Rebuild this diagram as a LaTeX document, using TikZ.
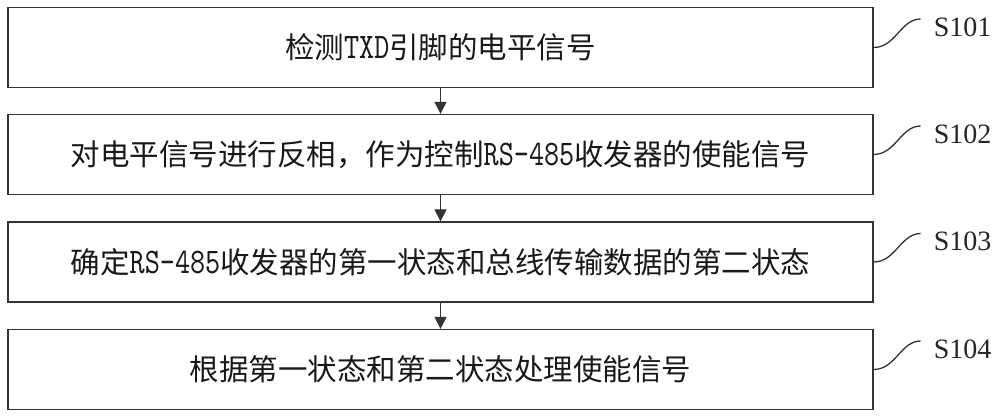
\documentclass[tikz,border=0pt]{standalone}
\usepackage{fontspec}
\setmainfont{Noto Sans CJK SC}
\newfontfamily\cjkfont{Noto Sans CJK SC}
\newfontfamily\labfont{Liberation Serif}
\newfontfamily\latmono{lmmono10-regular}[Extension=.otf, Scale=1.22, FakeStretch=0.8]
\usetikzlibrary{arrows.meta,calc}
\newcommand{\latm}[1]{{\latmono #1}}
\tikzset{
  stepbox/.style={draw=black!80, line width=1.3pt, minimum width=865pt, minimum height=80pt, inner sep=0pt,
    font=\fontsize{29.5pt}{32pt}\selectfont\cjkfont, text=black!90},
  flowarrow/.style={draw=black!80, line width=1.3pt, -{Triangle[length=12pt,width=12pt]}},
  leader/.style={draw=black!80, line width=1.3pt},
  steplabel/.style={anchor=west, inner sep=0pt, font=\fontsize{28pt}{30pt}\selectfont\labfont, text=black!85}
}
\begin{document}
\begin{tikzpicture}[x=1pt,y=1pt]
\useasboundingbox (0,0) rectangle (1000,417);
\node[stepbox] (b1) at (440.5,369.5) {检测\latm{TXD}引脚的电平信号};
\node[stepbox] (b2) at (440.5,262.5) {对电平信号进行反相，作为控制\latm{RS-485}收发器的使能信号};
\node[stepbox] (b3) at (440.5,155) {确定\latm{RS-485}收发器的第一状态和总线传输数据的第二状态};
\node[stepbox] (b4) at (440.5,47.5) {根据第一状态和第二状态处理使能信号};
\draw[flowarrow] (b1.south) -- (b2.north);
\draw[flowarrow] (b2.south) -- (b3.north);
\draw[flowarrow] (b3.south) -- (b4.north);
\foreach \i/\t in {1/S101,2/S102,3/S103,4/S104}{
  \coordinate (e\i) at ($(b\i.east)+(47,28.5)$);
  \draw[leader] (b\i.east) .. controls +(22,0) and +(-20,0) .. (e\i);
  \node[steplabel] (l\i) at ($(e\i)+(13,-8)$) {\t};
}
\end{tikzpicture}
\end{document}
